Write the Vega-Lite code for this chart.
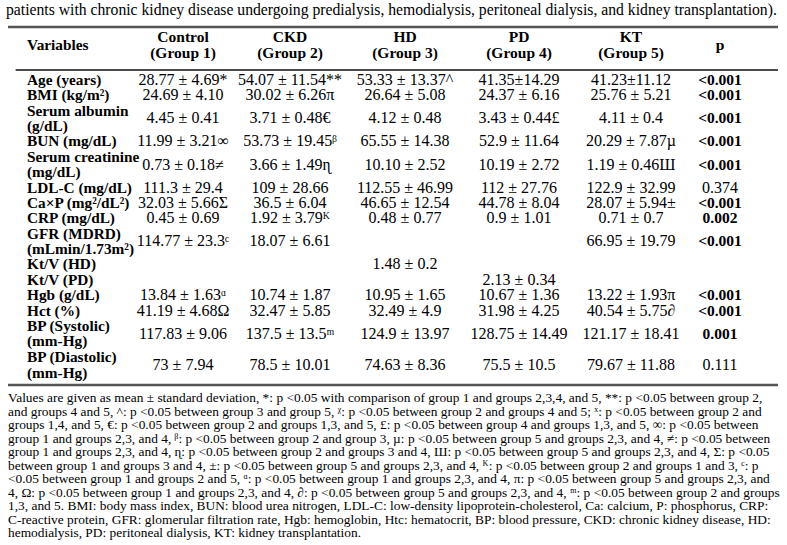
{
  "$schema": "https://vega.github.io/schema/vega-lite/v6.json",
  "width": 787,
  "height": 545,
  "autosize": "none",
  "padding": 0,
  "background": "white",
  "config": {"view": {"stroke": null}, "text": {"font": "Liberation Serif", "color": "black"}},
  "layer": [
    {
      "data": {"values": [{"caption": "patients with chronic kidney disease undergoing predialysis, hemodialysis, peritoneal dialysis, and kidney transplantation)."}]},
      "mark": {"type": "text", "align": "left", "baseline": "middle", "fontSize": 15.7, "dx": -2},
      "encoding": {
        "x": {"datum": 0, "type": "quantitative", "scale": {"domain": [0, 1, 2, 3, 4, 5, 6, 7, 8], "range": [8, 27, 183, 290, 405, 519, 631, 720, 778], "nice": false, "zero": false}, "axis": null},
        "y": {"datum": -4.55, "type": "quantitative", "scale": {"domain": [0, 19], "range": [80, 372.03], "nice": false, "zero": false}, "axis": null},
        "text": {"field": "caption"}
      }
    },
    {
      "data": {"values": [{}]},
      "mark": {"type": "rule", "color": "#555555", "strokeWidth": 2.5},
      "encoding": {"x": {"datum": 0, "type": "quantitative"}, "x2": {"datum": 8}, "y": {"datum": -3.45, "type": "quantitative"}}
    },
    {
      "data": {"values": [{}]},
      "mark": {"type": "rule", "color": "#111111", "strokeWidth": 1.5},
      "encoding": {"x": {"datum": 0.4, "type": "quantitative"}, "x2": {"datum": 8}, "y": {"datum": -0.65, "type": "quantitative"}}
    },
    {
      "data": {"values": [{}]},
      "mark": {"type": "rule", "color": "#555555", "strokeWidth": 2.5},
      "encoding": {"x": {"datum": 0, "type": "quantitative"}, "x2": {"datum": 8}, "y": {"datum": 19.84, "type": "quantitative"}}
    },
    {
      "data": {"values": [
        {"section": "header", "line": -2.28, "Variables": "Variables", "Control": "Control\n(Group 1)", "CKD": "CKD\n(Group 2)", "HD": "HD\n(Group 3)", "PD": "PD\n(Group 4)", "KT": "KT\n(Group 5)", "p": "p"},
        {"section": "body", "line": 0, "Variables": "Age (years)", "Control": "28.77 ± 4.69*", "CKD": "54.07 ± 11.54**", "HD": "53.33 ± 13.37^", "PD": "41.35±14.29", "KT": "41.23±11.12", "p": "<0.001"},
        {"section": "body", "line": 1, "Variables": "BMI (kg/m²)", "Control": "24.69 ± 4.10", "CKD": "30.02 ± 6.26π", "HD": "26.64 ± 5.08", "PD": "24.37 ± 6.16", "KT": "25.76 ± 5.21", "p": "<0.001"},
        {"section": "body", "line": 2.5, "Variables": "Serum albumin\n(g/dL)", "Control": "4.45 ± 0.41", "CKD": "3.71 ± 0.48€", "HD": "4.12 ± 0.48", "PD": "3.43 ± 0.44£", "KT": "4.11 ± 0.4", "p": "<0.001"},
        {"section": "body", "line": 4, "Variables": "BUN (mg/dL)", "Control": "11.99 ± 3.21∞", "CKD": "53.73 ± 19.45ᵝ", "HD": "65.55 ± 14.38", "PD": "52.9 ± 11.64", "KT": "20.29 ± 7.87µ", "p": "<0.001"},
        {"section": "body", "line": 5.5, "Variables": "Serum creatinine\n(mg/dL)", "Control": "0.73 ± 0.18≠", "CKD": "3.66 ± 1.49ɳ", "HD": "10.10 ± 2.52", "PD": "10.19 ± 2.72", "KT": "1.19 ± 0.46Ш", "p": "<0.001"},
        {"section": "body", "line": 7, "Variables": "LDL-C (mg/dL)", "Control": "111.3 ± 29.4", "CKD": "109 ± 28.66", "HD": "112.55 ± 46.99", "PD": "112 ± 27.76", "KT": "122.9 ± 32.99", "p": "0.374"},
        {"section": "body", "line": 8, "Variables": "Ca×P (mg²/dL²)", "Control": "32.03 ± 5.66Σ", "CKD": "36.5 ± 6.04", "HD": "46.65 ± 12.54", "PD": "44.78 ± 8.04", "KT": "28.07 ± 5.94±", "p": "<0.001"},
        {"section": "body", "line": 9, "Variables": "CRP (mg/dL)", "Control": "0.45 ± 0.69", "CKD": "1.92 ± 3.79ᴷ", "HD": "0.48 ± 0.77", "PD": "0.9 ± 1.01", "KT": "0.71 ± 0.7", "p": "0.002"},
        {"section": "body", "line": 10.5, "Variables": "GFR (MDRD)\n(mLmin/1.73m²)", "Control": "114.77 ± 23.3ᶜ", "CKD": "18.07 ± 6.61", "HD": "", "PD": "", "KT": "66.95 ± 19.79", "p": "<0.001"},
        {"section": "body", "line": 12, "Variables": "Kt/V (HD)", "Control": "", "CKD": "", "HD": "1.48 ± 0.2", "PD": "", "KT": "", "p": ""},
        {"section": "body", "line": 13, "Variables": "Kt/V (PD)", "Control": "", "CKD": "", "HD": "", "PD": "2.13 ± 0.34", "KT": "", "p": ""},
        {"section": "body", "line": 14, "Variables": "Hgb (g/dL)", "Control": "13.84 ± 1.63ᵅ", "CKD": "10.74 ± 1.87", "HD": "10.95 ± 1.65", "PD": "10.67 ± 1.36", "KT": "13.22 ± 1.93π", "p": "<0.001"},
        {"section": "body", "line": 15, "Variables": "Hct (%)", "Control": "41.19 ± 4.68Ω", "CKD": "32.47 ± 5.85", "HD": "32.49 ± 4.9", "PD": "31.98 ± 4.25", "KT": "40.54 ± 5.75∂", "p": "<0.001"},
        {"section": "body", "line": 16.5, "Variables": "BP (Systolic)\n(mm-Hg)", "Control": "117.83 ± 9.06", "CKD": "137.5 ± 13.5ᵐ", "HD": "124.9 ± 13.97", "PD": "128.75 ± 14.49", "KT": "121.17 ± 18.41", "p": "0.001"},
        {"section": "body", "line": 18.55, "Variables": "BP (Diastolic)\n(mm-Hg)", "Control": "73 ± 7.94", "CKD": "78.5 ± 10.01", "HD": "74.63 ± 8.36", "PD": "75.5 ± 10.5", "KT": "79.67 ± 11.88", "p": "0.111"}
      ]},
      "transform": [
        {"fold": ["Variables", "Control", "CKD", "HD", "PD", "KT", "p"]},
        {"filter": "isValid(datum.value) && datum.value !== ''"},
        {"calculate": "indexof(['Variables','Control','CKD','HD','PD','KT','p'], datum.key) + 1", "as": "col"},
        {"calculate": "indexof(datum.value, '\\n') >= 0", "as": "twoLines"},
        {"calculate": "datum.key === 'Variables' || datum.section === 'header' || (datum.key === 'p' && (indexof(datum.value, '<') === 0 || toNumber(datum.value) < 0.05))", "as": "isBold"}
      ],
      "encoding": {
        "x": {"field": "col", "type": "quantitative"},
        "y": {"field": "line", "type": "quantitative"},
        "text": {"field": "value"}
      },
      "layer": [
        {
          "transform": [{"filter": "datum.key === 'Variables' && !datum.twoLines"}],
          "mark": {"type": "text", "align": "left", "baseline": "middle", "fontSize": 15.3, "fontWeight": "bold"}
        },
        {
          "transform": [{"filter": "datum.key === 'Variables' && datum.twoLines"}],
          "mark": {"type": "text", "align": "left", "baseline": "middle", "fontSize": 15.3, "fontWeight": "bold", "lineBreak": "\n", "lineHeight": 15.4, "dy": -7.7}
        },
        {
          "transform": [{"filter": "datum.key !== 'Variables' && datum.isBold && !datum.twoLines"}],
          "mark": {"type": "text", "align": "center", "baseline": "middle", "fontSize": 15.5, "fontWeight": "bold"}
        },
        {
          "transform": [{"filter": "datum.key !== 'Variables' && datum.isBold && datum.twoLines"}],
          "mark": {"type": "text", "align": "center", "baseline": "middle", "fontSize": 15.5, "fontWeight": "bold", "lineBreak": "\n", "lineHeight": 15.8, "dy": -7.9}
        },
        {
          "transform": [{"filter": "datum.key !== 'Variables' && !datum.isBold"}],
          "mark": {"type": "text", "align": "center", "baseline": "middle", "fontSize": 16, "fontWeight": "normal"}
        }
      ]
    },
    {
      "data": {"values": [{"note": "Values are given as mean ± standard deviation, *: p <0.05 with comparison of group 1 and groups 2,3,4, and 5, **: p <0.05 between group 2,\nand groups 4 and 5, ^: p <0.05 between group 3 and group 5, ᵡ: p <0.05 between group 2 and groups 4 and 5; ˣ: p <0.05 between group 2 and\ngroups 1,4, and 5, €: p <0.05 between group 2 and groups 1,3, and 5, £: p <0.05 between group 4 and groups 1,3, and 5, ∞: p <0.05 between\ngroup 1 and groups 2,3, and 4, ᵝ: p <0.05 between group 2 and group 3, µ: p <0.05 between group 5 and groups 2,3, and 4, ≠: p <0.05 between\ngroup 1 and groups 2,3, and 4, ɳ: p <0.05 between group 2 and groups 3 and 4, Ш: p <0.05 between group 5 and groups 2,3, and 4, Σ: p <0.05\nbetween group 1 and groups 3 and 4, ±: p <0.05 between group 5 and groups 2,3, and 4, ᴷ: p <0.05 between group 2 and groups 1 and 3, ᶜ: p\n<0.05 between group 1 and groups 2 and 5, ᵅ: p <0.05 between group 1 and groups 2,3, and 4, π: p <0.05 between group 5 and groups 2,3, and\n4, Ω: p <0.05 between group 1 and groups 2,3, and 4, ∂: p <0.05 between group 5 and groups 2,3, and 4, ᵐ: p <0.05 between group 2 and groups\n1,3, and 5. BMI: body mass index, BUN: blood urea nitrogen, LDL-C: low-density lipoprotein-cholesterol, Ca: calcium, P: phosphorus, CRP:\nC-reactive protein,  GFR: glomerular filtration rate, Hgb: hemoglobin, Htc: hematocrit,  BP: blood pressure, CKD: chronic kidney disease, HD:\nhemodialysis, PD: peritoneal dialysis, KT: kidney transplantation."}]},
      "mark": {"type": "text", "align": "left", "baseline": "middle", "fontSize": 13.4, "lineBreak": "\n", "lineHeight": 13.5},
      "encoding": {
        "x": {"datum": 0, "type": "quantitative"},
        "y": {"datum": 20.69, "type": "quantitative"},
        "text": {"field": "note"}
      }
    }
  ]
}
